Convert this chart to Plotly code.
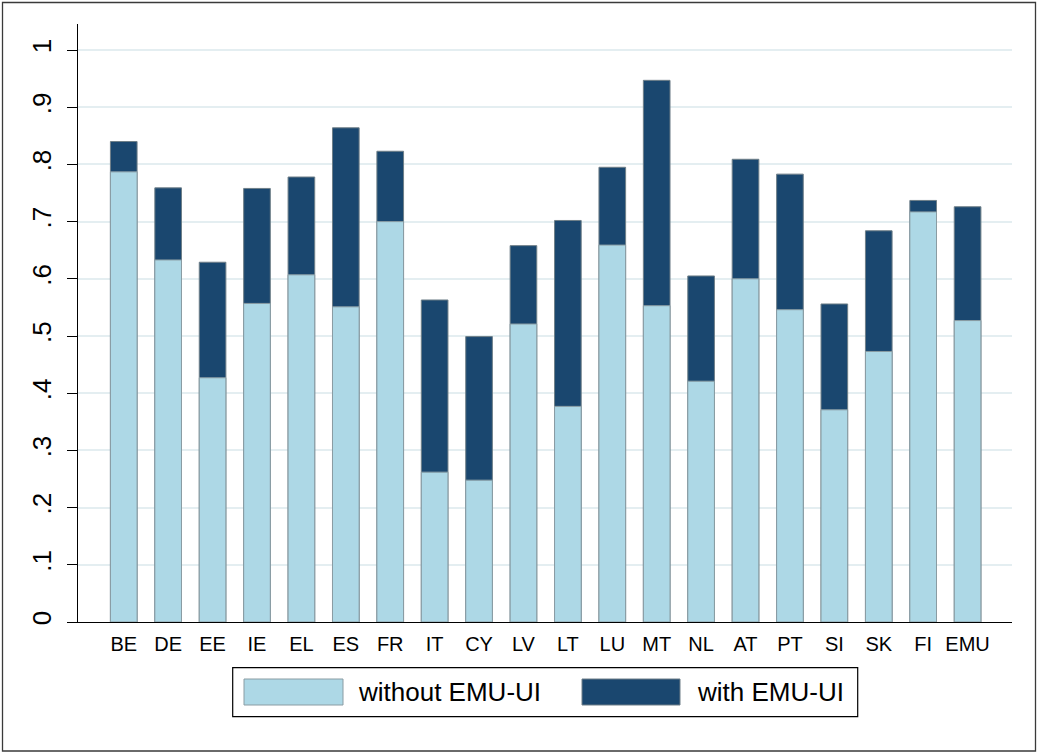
import plotly.graph_objects as go

countries = ["BE", "DE", "EE", "IE", "EL", "ES", "FR", "IT", "CY", "LV",
             "LT", "LU", "MT", "NL", "AT", "PT", "SI", "SK", "FI", "EMU"]
without_emu_ui = [0.787, 0.633, 0.427, 0.557, 0.607, 0.551, 0.700, 0.262, 0.248, 0.521,
                  0.377, 0.659, 0.553, 0.421, 0.600, 0.546, 0.371, 0.473, 0.717, 0.527]
with_emu_ui = [0.840, 0.759, 0.629, 0.758, 0.778, 0.864, 0.823, 0.563, 0.499, 0.658,
               0.702, 0.795, 0.947, 0.605, 0.809, 0.783, 0.556, 0.684, 0.737, 0.726]
series_names = ["without EMU-UI", "with EMU-UI"]
y_ticks = [0, 0.1, 0.2, 0.3, 0.4, 0.5, 0.6, 0.7, 0.8, 0.9, 1.0]
y_tick_labels = ["0", ".1", ".2", ".3", ".4", ".5", ".6", ".7", ".8", ".9", "1"]

LIGHT = "#add8e6"
DARK = "#1a476f"
FONT = "Arial, Liberation Sans, Helvetica, sans-serif"

W, H = 1038, 753
L, R, T, B = 78, 26, 24, 131
PW, PH = W - L - R, H - T - B


def px(x):
    return (x - L) / PW


def py(y):
    return (H - B - y) / PH


fig = go.Figure()
fig.add_trace(go.Bar(x=countries, y=with_emu_ui, name=series_names[1],
                     marker=dict(color=DARK, line=dict(color="#6f7f88", width=1)),
                     width=0.6, showlegend=False))
fig.add_trace(go.Bar(x=countries, y=without_emu_ui, name=series_names[0],
                     marker=dict(color=LIGHT, line=dict(color="#8a9ca3", width=1)),
                     width=0.6, showlegend=False))

shapes = [
    # outer frame
    dict(type="rect", xref="paper", yref="paper", x0=px(2.5), x1=px(1035.5),
         y0=py(751), y1=py(2.5), line=dict(color="#3a3a3a", width=1.3),
         fillcolor="rgba(0,0,0,0)", layer="below"),
    # legend box
    dict(type="rect", xref="paper", yref="paper", x0=px(232.7), x1=px(857.7),
         y0=py(716.7), y1=py(667.7), line=dict(color="#000000", width=1.2),
         fillcolor="white"),
    dict(type="rect", xref="paper", yref="paper", x0=px(244), x1=px(343),
         y0=py(705), y1=py(679), line=dict(color="#8a9ca3", width=1),
         fillcolor=LIGHT),
    dict(type="rect", xref="paper", yref="paper", x0=px(582), x1=px(680),
         y0=py(705), y1=py(679), line=dict(color="#6f7f88", width=1),
         fillcolor=DARK),
]
annotations = [
    dict(xref="paper", yref="paper", x=px(356), y=py(692), text=series_names[0],
         showarrow=False, xanchor="left", yanchor="middle",
         font=dict(family=FONT, size=26, color="#000")),
    dict(xref="paper", yref="paper", x=px(695), y=py(692), text=series_names[1],
         showarrow=False, xanchor="left", yanchor="middle",
         font=dict(family=FONT, size=26, color="#000")),
]

fig.update_layout(
    width=W, height=H,
    margin=dict(l=L, r=R, t=T, b=B, pad=0),
    barmode="overlay",
    plot_bgcolor="white", paper_bgcolor="white",
    font=dict(family=FONT, color="#000"),
    shapes=shapes, annotations=annotations,
    showlegend=False,
    xaxis=dict(range=[-1.03, 20.0], showline=True, linecolor="#000", linewidth=1.2,
               ticks="", showgrid=False, zeroline=False,
               tickfont=dict(family=FONT, size=20, color="#000"),
               ticklabelstandoff=4),
    yaxis=dict(range=[0, 1.0455], showline=True, linecolor="#000", linewidth=1.2,
               ticks="outside", ticklen=10, tickwidth=1.2, tickcolor="#000",
               tickvals=y_ticks, ticktext=y_tick_labels, tickangle=-90,
               tickfont=dict(family=FONT, size=26, color="#000"),
               showgrid=True, gridcolor="#e4eef1", gridwidth=1.5, zeroline=False,
               ticklabelstandoff=6),
)

fig.write_html("out.html", config={"displayModeBar": False},
               post_script="document.body.style.margin='0px';document.body.style.overflow='hidden';")
